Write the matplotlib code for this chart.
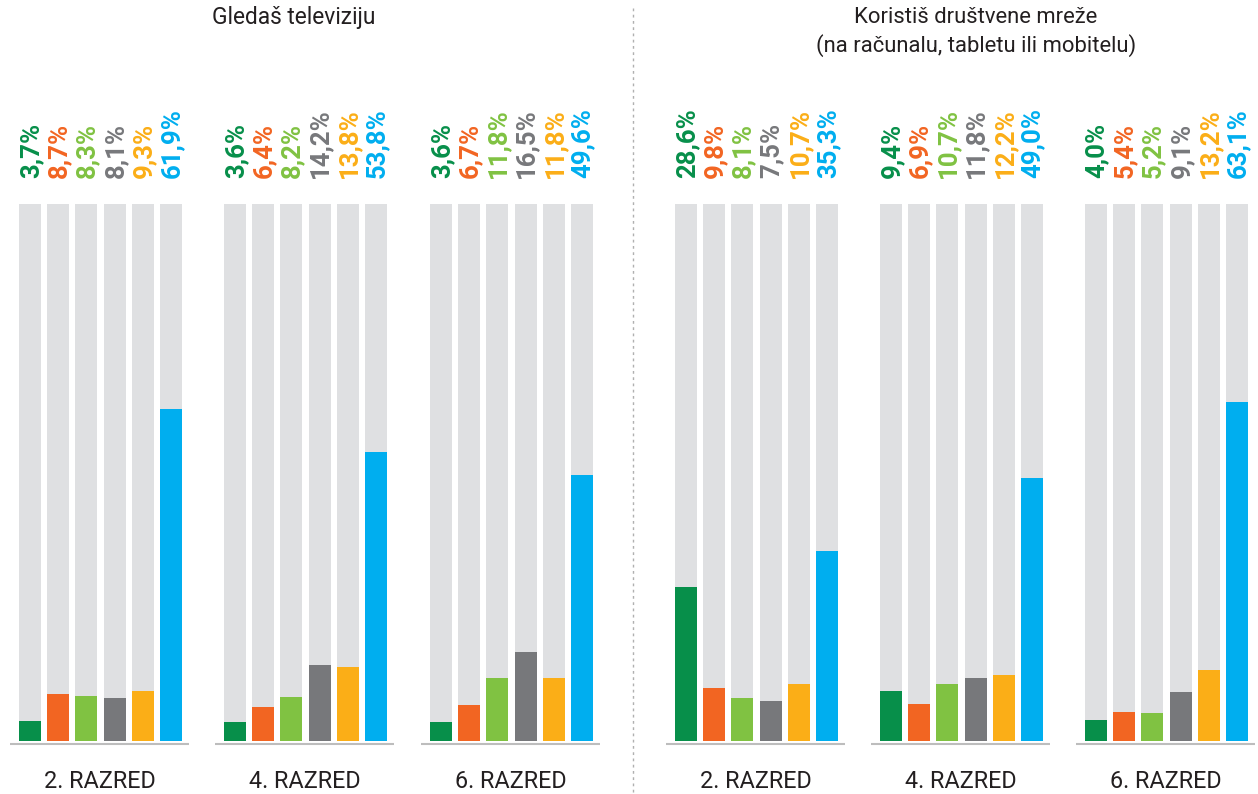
import matplotlib
matplotlib.use("Agg")
import matplotlib.pyplot as plt

# ---- data ----
panel_titles = ["Gledaš televiziju", "Koristiš društvene mreže\n(na računalu, tabletu ili mobitelu)"]
group_labels = ["2. RAZRED", "4. RAZRED", "6. RAZRED", "2. RAZRED", "4. RAZRED", "6. RAZRED"]
tv_2 = [3.7, 8.7, 8.3, 8.1, 9.3, 61.9]
tv_4 = [3.6, 6.4, 8.2, 14.2, 13.8, 53.8]
tv_6 = [3.6, 6.7, 11.8, 16.5, 11.8, 49.6]
sm_2 = [28.6, 9.8, 8.1, 7.5, 10.7, 35.3]
sm_4 = [9.4, 6.9, 10.7, 11.8, 12.2, 49.0]
sm_6 = [4.0, 5.4, 5.2, 9.1, 13.2, 63.1]
groups = [tv_2, tv_4, tv_6, sm_2, sm_4, sm_6]
colors = ["#078F4A", "#F26522", "#80C242", "#77787B", "#FBAE17", "#00AEEF"]
bg_color = "#DFE0E2"

# ---- layout (pixel based) ----
W, H = 1258, 794
fig = plt.figure(figsize=(W / 100, H / 100), dpi=100)
ax = fig.add_axes([0, 0, 1, 1])
base_px, top_px = 741, 204
scale = (base_px - top_px) / 100.0

def py(p):
    return (base_px - p) / scale

ax.set_xlim(0, W)
ax.set_ylim(py(H), py(0))
ax.axis("off")

group_starts = [19, 224, 430, 675, 880, 1085]
pitch, bw = 28.2, 22

for g, (vals, start) in enumerate(zip(groups, group_starts)):
    xs = [start + i * pitch + bw / 2 for i in range(len(vals))]
    ax.bar(xs, [100] * len(vals), width=bw, color=bg_color, zorder=1)
    ax.bar(xs, vals, width=bw, color=colors, zorder=2)
    for x, v, c in zip(xs, vals, colors):
        ax.text(x + 1, py(178), f"{v:.1f}%".replace(".", ","), rotation=90,
                ha="center", va="bottom", color=c, fontsize=18.5,
                fontweight="bold", family="Roboto")
    x0, x1 = start - 9, start + 5 * pitch + bw + 7
    ax.plot([x0, x1], [py(744), py(744)], color="#BDBDBD", lw=1.5, zorder=3,
            solid_capstyle="butt")
    ax.text((x0 + x1) / 2, py(782), group_labels[g], ha="center", va="center",
            fontsize=16.8, color="#231F20", family="Roboto")

ax.text(294, py(18), panel_titles[0], ha="center", va="center",
        fontsize=16.4, color="#231F20", family="Roboto")
ax.text(976, py(32), panel_titles[1], ha="center", va="center",
        fontsize=15.8, color="#231F20", family="Roboto", linespacing=1.3)

ax.plot([633, 633], [py(8), py(794)], color="#B0B0B0", lw=1,
        linestyle=(0, (2, 2.5)))

fig.savefig("out.png", dpi=100)
